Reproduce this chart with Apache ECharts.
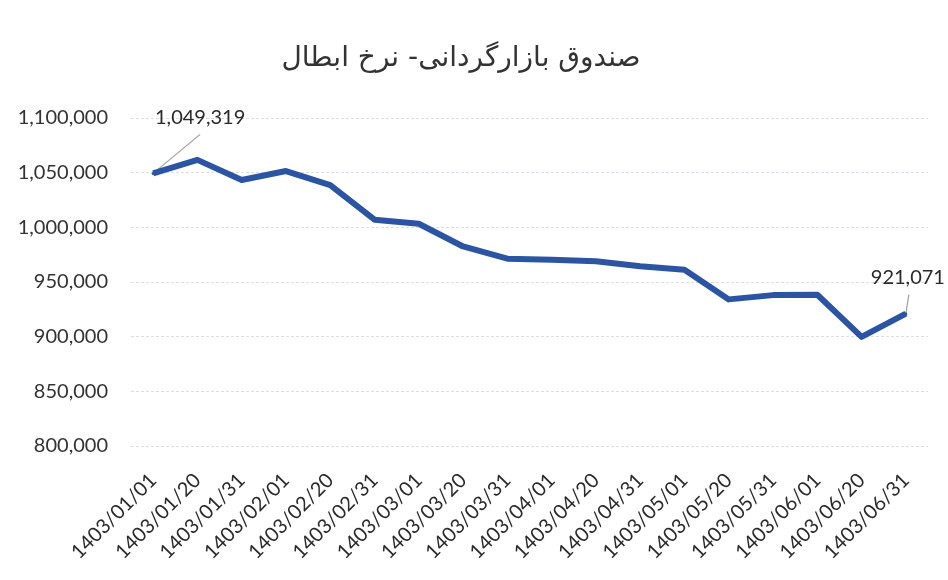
<!DOCTYPE html>
<html><head><meta charset="utf-8">
<script src="https://cdn.jsdelivr.net/npm/echarts@6/dist/echarts.min.js"></script>
<style>html,body{margin:0;padding:0;background:#fff}#c{width:948px;height:580px}</style>
</head><body><div id="c"></div>
<script>
const titleText = 'صندوق بازارگردانی- نرخ ابطال';
const categories = ['1403/01/01','1403/01/20','1403/01/31','1403/02/01','1403/02/20','1403/02/31','1403/03/01','1403/03/20','1403/03/31','1403/04/01','1403/04/20','1403/04/31','1403/05/01','1403/05/20','1403/05/31','1403/06/01','1403/06/20','1403/06/31'];
const values = [1049319,1061700,1043300,1051500,1038700,1007000,1003300,982500,971300,970400,969000,964500,961100,934100,938000,938300,899800,921071];
const labeledIdx = [0, 17];
const yMin = 800000, yMax = 1100000, yStep = 50000;

const chart = echarts.init(document.getElementById('c'));
const fmt = v => v.toLocaleString('en-US');
// label offsets (pixels) from default 'top' position, and leader-line end offsets from the point
const offsets = {0:[47,-39], 17:[2,-20]};
const leaderEnds = {0:[47,-39], 17:[3,-19]};
chart.setOption({
  animation:false,
  backgroundColor:'#ffffff',
  title:{text:titleText,left:456,top:40,textAlign:'center',textStyle:{fontFamily:'DejaVu Sans',fontSize:28,fontWeight:'normal',color:'#333'}},
  grid:{left:131,right:20,top:118,bottom:134,containLabel:false},
  xAxis:{type:'category',data:categories,boundaryGap:true,
    axisLine:{show:false},axisTick:{show:false},
    axisLabel:{rotate:45,margin:31,fontFamily:'Lato',fontSize:20,color:'#2a2a2a',interval:0}},
  yAxis:{type:'value',min:yMin,max:yMax,interval:yStep,
    axisLine:{show:false},axisTick:{show:false},
    splitLine:{lineStyle:{color:'#d9dde8',type:[3,2],width:1}},
    axisLabel:{formatter:v=>fmt(v),fontFamily:'Lato',fontSize:20,color:'#333',margin:23}},
  series:[{type:'line',z:3,
    data:values.map((v,i)=>labeledIdx.includes(i)
      ? {value:v,symbol:'circle',symbolSize:3,label:{show:true}}
      : {value:v,symbol:'none'}),
    smooth:false,
    lineStyle:{color:'#2B55A3',width:6,join:'round'},
    itemStyle:{color:'#2B55A3'},
    label:{show:false,position:'top',formatter:p=>fmt(p.value),fontFamily:'Lato',fontSize:20,color:'#2a2a2a'},
    labelLayout:function(p){
      const o = offsets[p.dataIndex];
      return o ? {dx:o[0],dy:o[1]} : {};
    }
  }]
});
const leaders = labeledIdx.map(i=>{
  const p = chart.convertToPixel({seriesIndex:0},[i,values[i]]);
  const e = leaderEnds[i];
  return {type:'line',z:1,shape:{x1:p[0],y1:p[1],x2:p[0]+e[0],y2:p[1]+e[1]},style:{stroke:'#a0a0a0',lineWidth:1.2}};
});
chart.setOption({graphic:leaders});
</script></body></html>
